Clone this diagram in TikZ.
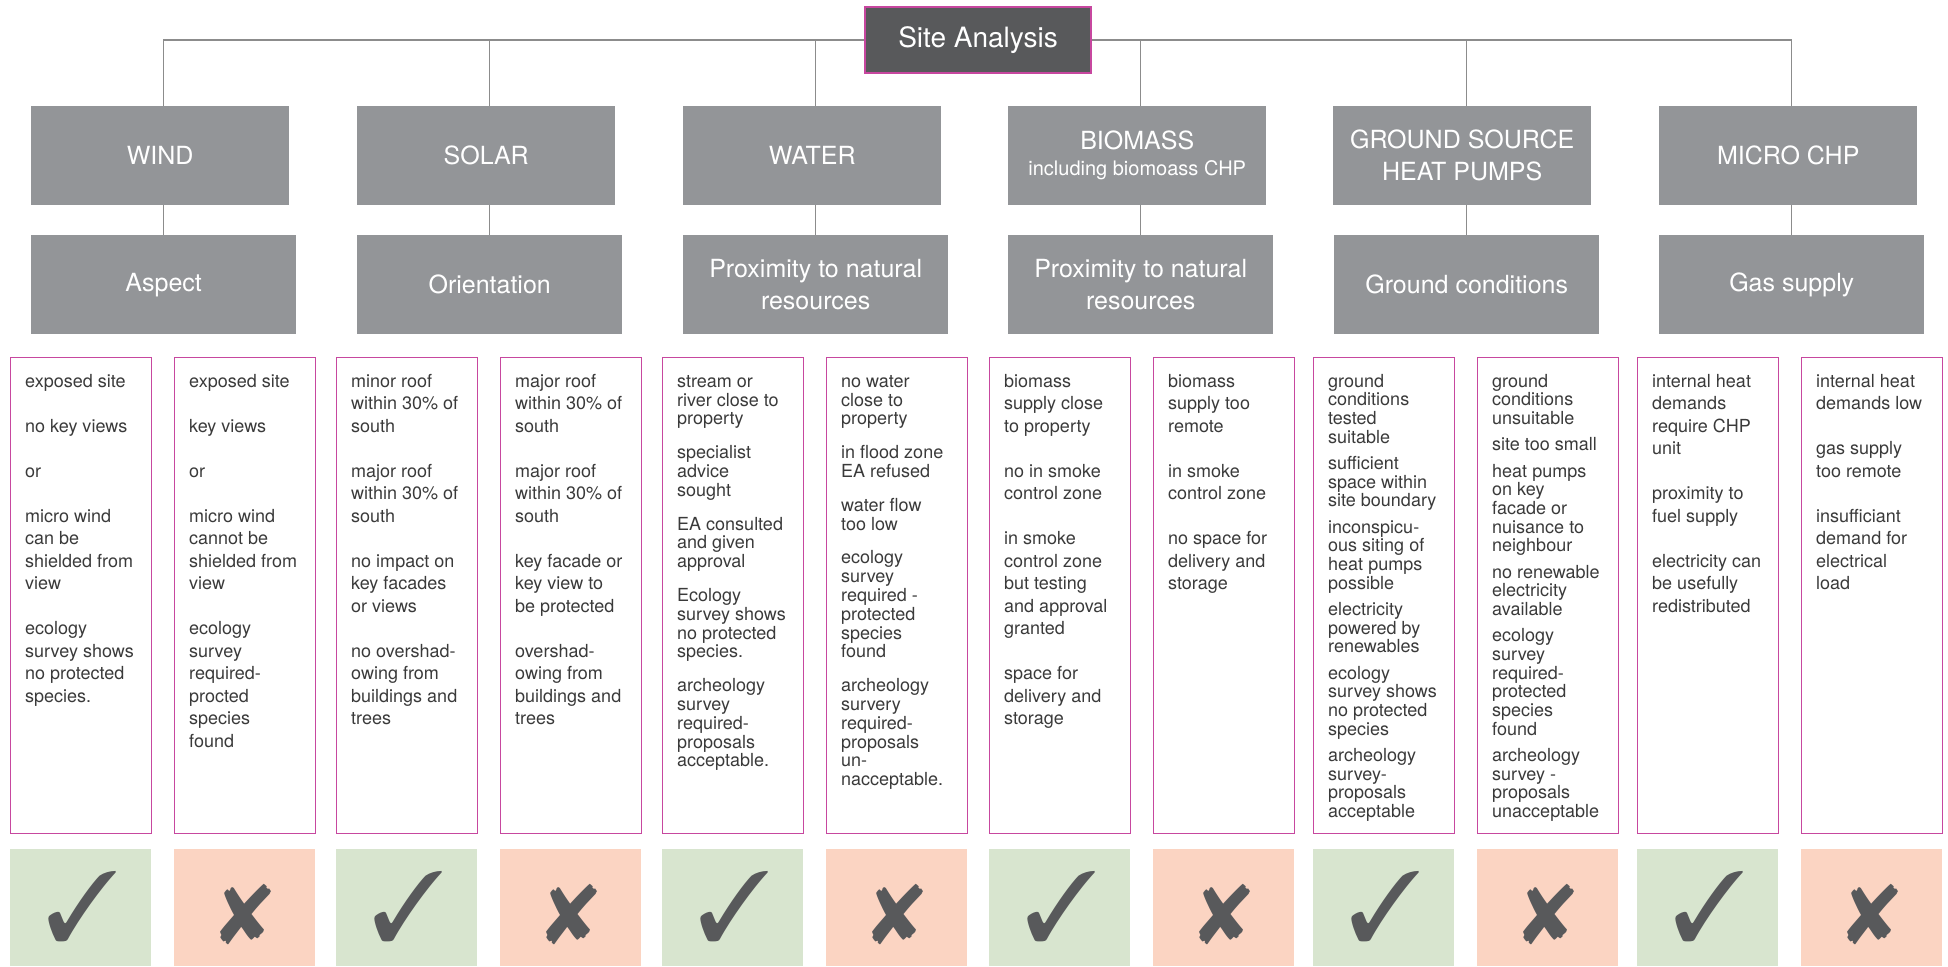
\documentclass[tikz,border=0pt]{standalone}
\usepackage{fontspec}
\setmainfont{TeX Gyre Heros}
\usepackage{pifont}
\definecolor{boxgray}{HTML}{939598}
\definecolor{darkbox}{HTML}{58595B}
\definecolor{magborder}{HTML}{C7479F}
\definecolor{okgreen}{HTML}{D8E5CF}
\definecolor{nosalmon}{HTML}{FBD4C2}
\definecolor{linegray}{HTML}{8C8C8C}
\definecolor{bodytext}{HTML}{3A3A3A}
\definecolor{markgray}{HTML}{58595B}
\pgfdeclarelayer{bg}\pgfdeclarelayer{lines}\pgfsetlayers{bg,lines,main}
\newcommand\tstrut{\rule{0pt}{14pt}}
\newcommand\okglyph{\ding{51}}
\newcommand\noglyph{\ding{56}}
\newcommand\critcol[5]{%
  \node[critbox] (#1) at (#2,357) {};
  \node[#3] (#1txt) at ([xshift=15pt,yshift=-16pt]#1.north west) {\tstrut #4};
  \node[#5box] (#1sq) at (#2,849) {};
  \node[#5mark] (#1mk) at (#1sq.center) {\csname #5glyph\endcsname};
}
\begin{document}
\begin{tikzpicture}[x=1pt,y=-1pt,
  conn/.style={draw=linegray,line width=1.2pt},
  sabox/.style={fill=darkbox,draw=magborder,line width=1.5pt,minimum width=226pt,minimum height=66pt,inner sep=0pt,text=white,font=\fontsize{28}{32}\selectfont},
  topbox/.style={fill=boxgray,minimum width=258pt,minimum height=99pt,anchor=north west,inner sep=0pt,text=white,align=center,font=\fontsize{25}{32}\selectfont},
  subbox/.style={fill=boxgray,minimum width=265pt,minimum height=99pt,anchor=north west,inner sep=0pt,text=white,align=center,font=\fontsize{25}{32}\selectfont},
  critbox/.style={draw=magborder,line width=1.3pt,minimum width=141pt,minimum height=476pt,anchor=north west,inner sep=0pt},
  bodyA/.style={anchor=north west,inner sep=0pt,align=left,text=bodytext,font=\fontsize{18}{22.5}\selectfont},
  bodyB/.style={anchor=north west,inner sep=0pt,align=left,text=bodytext,font=\fontsize{18}{18.8}\selectfont},
  bodyC/.style={anchor=north west,inner sep=0pt,align=left,text=bodytext,font=\fontsize{18}{18.7}\selectfont},
  okbox/.style={fill=okgreen,minimum width=141pt,minimum height=117pt,anchor=north west,inner sep=0pt},
  nobox/.style={fill=nosalmon,minimum width=141pt,minimum height=117pt,anchor=north west,inner sep=0pt},
  okmark/.style={inner sep=0pt,text=markgray,xshift=2pt,yshift=1pt,font=\fontsize{98}{98}\selectfont},
  nomark/.style={inner sep=0pt,text=markgray,xshift=1.5pt,yshift=-7pt,font=\fontsize{84}{84}\selectfont},
]
\useasboundingbox (0,0) rectangle (1948,966);

\node[sabox] (sa) at (978,40) {Site Analysis};

\node[topbox] (w1) at (31,106) {WIND};
\node[topbox] (s1) at (357,106) {SOLAR};
\node[topbox] (h1) at (683,106) {WATER};
\node[topbox] (b1) at (1008,106) {BIOMASS\\[-6pt]{\fontsize{20}{24}\selectfont including biomoass CHP}};
\node[topbox] (g1) at (1333,106) {GROUND SOURCE\\HEAT PUMPS};
\node[topbox] (m1) at (1659,106) {MICRO CHP};

\node[subbox] (w2) at (31,235) {Aspect};
\node[subbox] (s2) at (357,235) {Orientation};
\node[subbox] (h2) at (683,235) {Proximity to natural\\resources};
\node[subbox] (b2) at (1008,235) {Proximity to natural\\resources};
\node[subbox] (g2) at (1334,235) {Ground conditions};
\node[subbox] (m2) at (1659,235) {Gas supply};

\begin{pgfonlayer}{lines}
\draw[conn] (sa.west) -| (w2.north |- w1.north);
\draw[conn] (sa.west) -| (s2.north |- s1.north);
\draw[conn] (sa.west) -| (h2.north |- h1.north);
\draw[conn] (sa.east) -| (b2.north |- b1.north);
\draw[conn] (sa.east) -| (g2.north |- g1.north);
\draw[conn] (sa.east) -| (m2.north |- m1.north);
\draw[conn] (w2.north |- w1.south) -- (w2.north);
\draw[conn] (s2.north |- s1.south) -- (s2.north);
\draw[conn] (h2.north |- h1.south) -- (h2.north);
\draw[conn] (b2.north |- b1.south) -- (b2.north);
\draw[conn] (g2.north |- g1.south) -- (g2.north);
\draw[conn] (m2.north |- m1.south) -- (m2.north);
\end{pgfonlayer}

\critcol{c1}{10}{bodyA}{exposed site\\[22.5pt]no key views\\[22.5pt]or\\[22.5pt]micro wind\\can be\\shielded from\\view\\[22.5pt]ecology\\survey shows\\no protected\\species.}{ok}
\critcol{c2}{174}{bodyA}{exposed site\\[22.5pt]key views\\[22.5pt]or\\[22.5pt]micro wind\\cannot be\\shielded from\\view\\[22.5pt]ecology\\survey\\required-\\procted\\species\\found}{no}
\critcol{c3}{336}{bodyA}{minor roof\\within 30\% of\\south\\[22.5pt]major roof\\within 30\% of\\south\\[22.5pt]no impact on\\key facades\\or views\\[22.5pt]no overshad-\\owing from\\buildings and\\trees}{ok}
\critcol{c4}{500}{bodyA}{major roof\\within 30\% of\\south\\[22.5pt]major roof\\within 30\% of\\south\\[22.5pt]key facade or\\key view to\\be protected\\[22.5pt]overshad-\\owing from\\buildings and\\trees}{no}
\critcol{c5}{662}{bodyB}{stream or\\river close to\\property\\[15pt]specialist\\advice\\sought\\[15pt]EA consulted\\and given\\approval\\[15pt]Ecology\\survey shows\\no protected\\species.\\[15pt]archeology\\survey\\required-\\proposals\\acceptable.}{ok}
\critcol{c6}{826}{bodyB}{no water\\close to\\property\\[15pt]in flood zone\\EA refused\\[15pt]water flow\\too low\\[15pt]ecology\\survey\\required -\\protected\\species\\found\\[15pt]archeology\\survery\\required-\\proposals\\un-\\nacceptable.}{no}
\critcol{c7}{989}{bodyA}{biomass\\supply close\\to property\\[22.5pt]no in smoke\\control zone\\[22.5pt]in smoke\\control zone\\but testing\\and approval\\granted\\[22.5pt]space for\\delivery and\\storage}{ok}
\critcol{c8}{1153}{bodyA}{biomass\\supply too\\remote\\[22.5pt]in smoke\\control zone\\[22.5pt]no space for\\delivery and\\storage}{no}
\critcol{c9}{1313}{bodyC}{ground\\conditions\\tested\\suitable\\[7.5pt]sufficient\\space within\\site boundary\\[7.5pt]inconspicu-\\ous siting of\\heat pumps\\possible\\[7.5pt]electricity\\powered by\\renewables\\[7.5pt]ecology\\survey shows\\no protected\\species\\[7.5pt]archeology\\survey-\\proposals\\acceptable}{ok}
\critcol{c10}{1477}{bodyC}{ground\\conditions\\unsuitable\\[7.5pt]site too small\\[7.5pt]heat pumps\\on key\\facade or\\nuisance to\\neighbour\\[7.5pt]no renewable\\electricity\\available\\[7.5pt]ecology\\survey\\required-\\protected\\species\\found\\[7.5pt]archeology\\survey -\\proposals\\unacceptable}{no}
\critcol{c11}{1637}{bodyA}{internal heat\\demands\\require CHP\\unit\\[22.5pt]proximity to\\fuel supply\\[22.5pt]electricity can\\be usefully\\redistributed}{ok}
\critcol{c12}{1801}{bodyA}{internal heat\\demands low\\[22.5pt]gas supply\\too remote\\[22.5pt]insufficiant\\demand for\\electrical\\load}{no}
\end{tikzpicture}
\end{document}
